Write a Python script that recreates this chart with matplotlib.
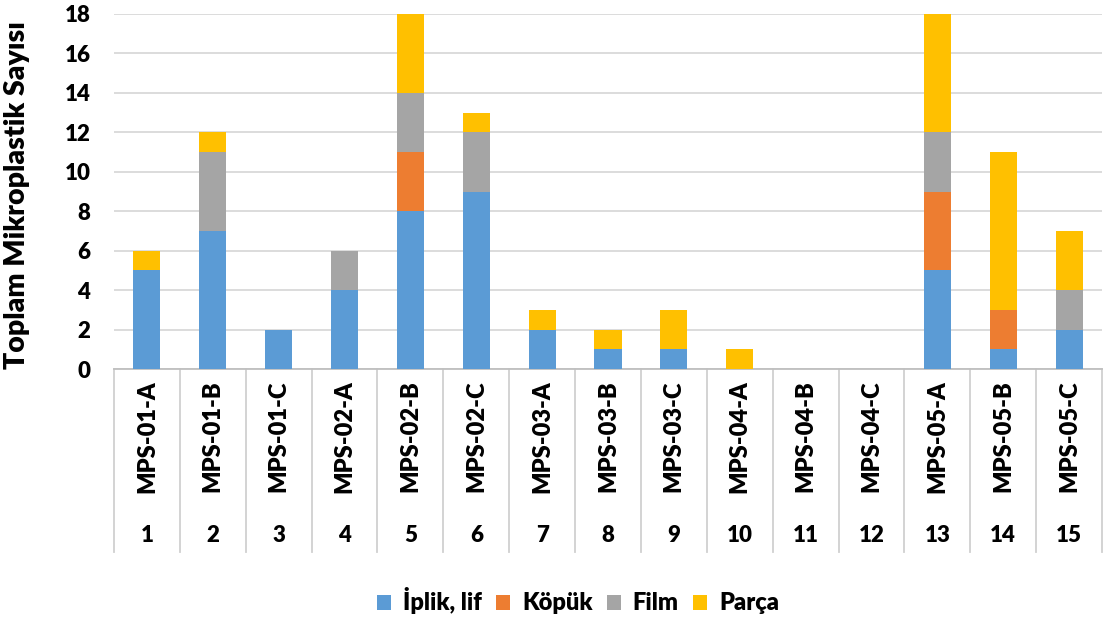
import matplotlib
matplotlib.use("Agg")
import matplotlib.pyplot as plt
import matplotlib.transforms as mtransforms
import numpy as np

categories = ["MPS-01-A", "MPS-01-B", "MPS-01-C", "MPS-02-A", "MPS-02-B", "MPS-02-C",
              "MPS-03-A", "MPS-03-B", "MPS-03-C", "MPS-04-A", "MPS-04-B", "MPS-04-C",
              "MPS-05-A", "MPS-05-B", "MPS-05-C"]
numbers = [str(i) for i in range(1, 16)]
iplik = [5, 7, 2, 4, 8, 9, 2, 1, 1, 0, 0, 0, 5, 1, 2]
kopuk = [0, 0, 0, 0, 3, 0, 0, 0, 0, 0, 0, 0, 4, 2, 0]
film = [0, 4, 0, 2, 3, 3, 0, 0, 0, 0, 0, 0, 3, 0, 2]
parca = [1, 1, 0, 0, 4, 1, 1, 1, 2, 1, 0, 0, 6, 8, 3]
series_names = ["İplik, lif", "Köpük", "Film", "Parça"]
colors = ["#5B9BD5", "#ED7D31", "#A5A5A5", "#FFC000"]
yticks = [0, 2, 4, 6, 8, 10, 12, 14, 16, 18]

plt.rcParams['font.family'] = ['Lato', 'DejaVu Sans']
W = 'heavy'

fig = plt.figure(figsize=(11.06, 6.22), dpi=100)
ax = fig.add_axes([114/1106, (622-369)/622, (1102-114)/1106, 355/622])

x = np.arange(len(categories))
bottom = np.zeros(len(categories))
for name, vals, c in zip(series_names, [iplik, kopuk, film, parca], colors):
    ax.bar(x, vals, 0.41, bottom=bottom, color=c, label=name, zorder=3)
    bottom += np.array(vals)

ax.set_xlim(-0.5, len(categories) - 0.5)
ax.set_ylim(0, 18)
ax.set_yticks(yticks)
ax.set_yticklabels([str(t) for t in yticks], fontsize=16, fontweight=W)
ax.yaxis.grid(True, color='#D9D9D9', linewidth=1.3, zorder=0)
ax.tick_params(axis='y', length=0, pad=17)
ax.tick_params(axis='x', length=0, labelbottom=False)
for s in ['top', 'right', 'left']:
    ax.spines[s].set_visible(False)
ax.spines['bottom'].set_color('#BFBFBF')
ax.spines['bottom'].set_linewidth(1.3)

ax.set_ylabel("Toplam Mikroplastik Sayısı", fontsize=20.5, fontweight=W)
ax.yaxis.set_label_coords(-0.085, 0.49)

trans = mtransforms.blended_transform_factory(ax.transData, ax.transAxes)
for i, (cat, num) in enumerate(zip(categories, numbers)):
    ax.text(i, -0.19, cat, rotation=90, ha='center', va='center', fontsize=17,
            fontweight=W, transform=trans)
    ax.text(i, -0.47, num, ha='center', va='center', fontsize=16,
            fontweight=W, transform=trans)
for b in np.arange(-0.5, len(categories), 1.0):
    ax.plot([b, b], [0, -0.515], transform=trans, color='#D0D0D0', linewidth=1.3,
            clip_on=False)

leg = fig.legend(loc='center', bbox_to_anchor=(578/1106, 1 - 601/622), ncol=4,
                 frameon=False, handlelength=0.6, handleheight=0.6,
                 handletextpad=0.5, columnspacing=0.6, prop={'weight': W, 'size': 17})

fig.savefig("out.png", dpi=100)
